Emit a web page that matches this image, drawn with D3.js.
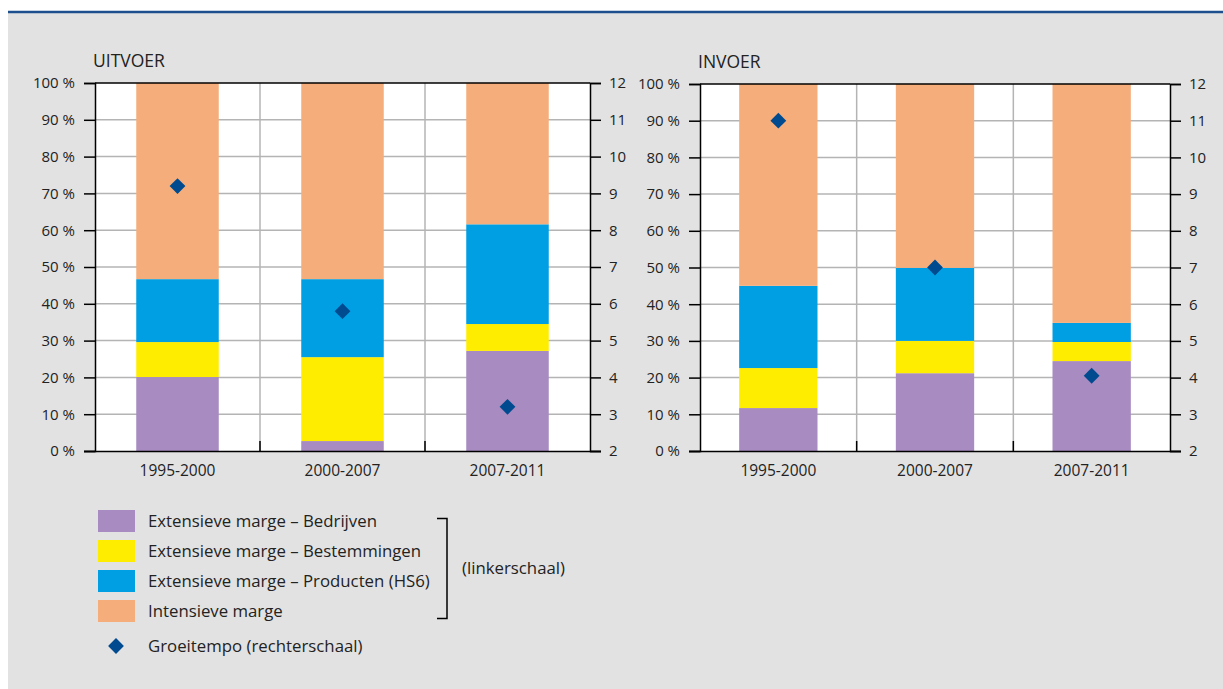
<!DOCTYPE html>
<html>
<head>
<meta charset="utf-8">
<script src="https://cdn.jsdelivr.net/npm/d3@7/dist/d3.min.js"></script>
<style>
  html, body { margin: 0; padding: 0; background: #ffffff; }
  svg { display: block; font-family: "Open Sans", "Noto Sans", sans-serif; }
</style>
</head>
<body>
<svg id="chart" width="1223" height="689"></svg>
<script>
// ---- Data ----
const categories = ["1995-2000", "2000-2007", "2007-2011"];
const seriesNames = [
  "Extensieve marge – Bedrijven",
  "Extensieve marge – Bestemmingen",
  "Extensieve marge – Producten (HS6)",
  "Intensieve marge"
];
const markerName = "Groeitempo (rechterschaal)";
const bracketLabel = "(linkerschaal)";

// UITVOER (percent shares, stacked)
const uitvoerBedrijven    = [20.1, 2.7, 27.2];
const uitvoerBestemmingen = [9.5, 22.8, 7.3];
const uitvoerProducten    = [17.1, 21.2, 27.1];
const uitvoerIntensief    = [53.3, 53.3, 38.4];
const uitvoerGroei        = [9.2, 5.8, 3.2];

// INVOER
const invoerBedrijven    = [11.7, 21.2, 24.5];
const invoerBestemmingen = [10.9, 8.8, 5.2];
const invoerProducten    = [22.4, 19.9, 5.2];
const invoerIntensief    = [55.0, 50.1, 65.1];
const invoerGroei        = [11.0, 7.0, 4.05];

const leftTicks  = [0, 10, 20, 30, 40, 50, 60, 70, 80, 90, 100];
const rightTicks = [2, 3, 4, 5, 6, 7, 8, 9, 10, 11, 12];
const panelTitles = ["UITVOER", "INVOER"];

// ---- Style ----
const colors = ["#a78bc1", "#ffed00", "#009fe3", "#f5ae7b"];
const diamondColor = "#004a8f";
const bgGray = "#e2e2e2";
const gridColor = "#b4b4b4";
const textColor = "#222222";

const svg = d3.select("#chart");

// background
svg.append("rect").attr("x", 8).attr("y", 12).attr("width", 1215).attr("height", 677).attr("fill", bgGray);
svg.append("line").attr("x1", 8).attr("x2", 1223).attr("y1", 12).attr("y2", 12)
  .attr("stroke", "#1d4f8f").attr("stroke-width", 2.5);

function drawPanel(cfg) {
  const { x0, x1, y0, y1, title, data, groei } = cfg;
  const g = svg.append("g");

  const x = d3.scaleBand().domain(categories).range([x0, x1]).paddingInner(0).paddingOuter(0);
  const yL = d3.scaleLinear().domain([0, 100]).range([y1, y0]);
  const yR = d3.scaleLinear().domain([2, 12]).range([y1, y0]);

  // plot area
  g.append("rect").attr("x", x0).attr("y", y0).attr("width", x1 - x0).attr("height", y1 - y0).attr("fill", "#ffffff");

  // horizontal grid
  g.selectAll(".hg").data(leftTicks.slice(1, -1)).enter().append("line")
    .attr("x1", x0).attr("x2", x1).attr("y1", d => yL(d)).attr("y2", d => yL(d))
    .attr("stroke", gridColor).attr("stroke-width", 1.5);
  // vertical grid at band boundaries
  const bounds = categories.slice(1).map(c => x(c));
  g.selectAll(".vg").data(bounds).enter().append("line")
    .attr("x1", d => d).attr("x2", d => d).attr("y1", y0).attr("y2", y1)
    .attr("stroke", gridColor).attr("stroke-width", 1.5);

  // stacked bars
  const rows = categories.map((c, i) => ({ cat: c, s0: data[0][i], s1: data[1][i], s2: data[2][i], s3: data[3][i] }));
  const stack = d3.stack().keys(["s0", "s1", "s2", "s3"]);
  const stacked = stack(rows);
  const bw = x.bandwidth() * 0.5;
  stacked.forEach((layer, li) => {
    g.selectAll(".b" + li).data(layer).enter().append("rect")
      .attr("x", d => x(d.data.cat) + (x.bandwidth() - bw) / 2)
      .attr("width", bw)
      .attr("y", d => yL(Math.min(d[1], 100)))
      .attr("height", d => yL(d[0]) - yL(Math.min(d[1], 100)))
      .attr("fill", colors[li]);
  });

  // frame top line
  g.append("line").attr("x1", x0).attr("x2", x1).attr("y1", y0).attr("y2", y0).attr("stroke", "#000").attr("stroke-width", 1.5);

  // small category boundary ticks at bottom
  g.selectAll(".ct").data(bounds).enter().append("line")
    .attr("x1", d => d).attr("x2", d => d).attr("y1", y1).attr("y2", y1 - 10)
    .attr("stroke", "#000").attr("stroke-width", 1.5);

  // left axis
  const axL = d3.axisLeft(yL).tickValues(leftTicks).tickSize(11).tickPadding(9).tickFormat(d => d + " %");
  const gl = g.append("g").attr("transform", `translate(${x0},0)`).call(axL);
  // right axis
  const axR = d3.axisRight(yR).tickValues(rightTicks).tickSize(11).tickPadding(8).tickFormat(d3.format("d"));
  const gr = g.append("g").attr("transform", `translate(${x1},0)`).call(axR);
  // bottom axis
  const axB = d3.axisBottom(x).tickSize(0).tickPadding(14);
  const gb = g.append("g").attr("transform", `translate(0,${y1})`).call(axB);

  [gl, gr, gb].forEach(a => {
    a.select(".domain").attr("stroke", "#000").attr("stroke-width", 1.5);
    a.selectAll(".tick line").attr("stroke", "#000").attr("stroke-width", 1.5);
    a.selectAll("text").attr("fill", textColor).style("font-size", "15px").style("font-family", '"Open Sans", sans-serif');
  });
  gb.selectAll("text").style("font-size", "15.5px");
  gb.select(".domain").attr("d", `M${x0 - 11},0.5H${x1 + 11}`);

  // diamonds
  g.selectAll(".dm").data(categories).enter().append("path")
    .attr("d", d3.symbol().type(d3.symbolSquare).size(125))
    .attr("transform", (d, i) => `translate(${x(d) + x.bandwidth() / 2},${yR(groei[i])}) rotate(45)`)
    .attr("fill", diamondColor);

  // title
  g.append("text").attr("x", x0 - 2).attr("y", y0 - 16).text(title)
    .attr("fill", textColor).style("font-size", "17.5px");
}

drawPanel({
  x0: 95, x1: 590, y0: 83, y1: 451, title: panelTitles[0],
  data: [uitvoerBedrijven, uitvoerBestemmingen, uitvoerProducten, uitvoerIntensief],
  groei: uitvoerGroei
});
drawPanel({
  x0: 700, x1: 1170, y0: 84, y1: 451, title: panelTitles[1],
  data: [invoerBedrijven, invoerBestemmingen, invoerProducten, invoerIntensief],
  groei: invoerGroei
});

// ---- Legend ----
const lg = svg.append("g");
const legY = d3.scalePoint().domain(seriesNames).range([521, 611]);
lg.selectAll(".sw").data(seriesNames).enter().append("rect")
  .attr("x", 98).attr("y", d => legY(d) - 11).attr("width", 37).attr("height", 22)
  .attr("fill", (d, i) => colors[i]);
lg.selectAll(".lt").data(seriesNames).enter().append("text")
  .attr("x", 148).attr("y", d => legY(d)).attr("dy", "0.35em").text(d => d)
  .attr("fill", textColor).style("font-size", "16.8px");
// marker legend
lg.append("path").attr("d", d3.symbol().type(d3.symbolSquare).size(125))
  .attr("transform", "translate(116,646) rotate(45)").attr("fill", diamondColor);
lg.append("text").attr("x", 148).attr("y", 646).attr("dy", "0.35em").text(markerName)
  .attr("fill", textColor).style("font-size", "16.8px");
// bracket
lg.append("path").attr("d", "M437,518.5H447V618.5H437").attr("fill", "none").attr("stroke", "#000").attr("stroke-width", 1.5);
lg.append("text").attr("x", 462).attr("y", 568).attr("dy", "0.35em").text(bracketLabel)
  .attr("fill", textColor).style("font-size", "16.8px");
</script>
</body>
</html>
